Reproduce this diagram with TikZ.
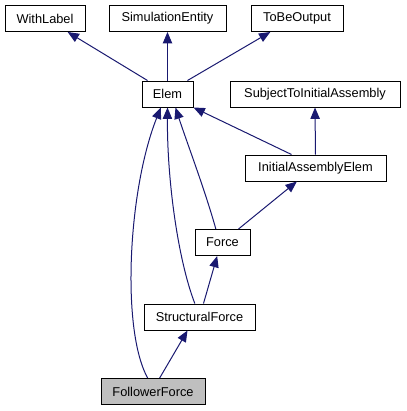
\documentclass[tikz,border=0pt]{standalone}
\usepackage{fontspec}
\setmainfont{Liberation Sans}
\usetikzlibrary{arrows.meta}
\definecolor{midnightblue}{HTML}{191970}
\definecolor{curgray}{HTML}{BFBFBF}
\begin{document}
\begin{tikzpicture}[
    x=0.75pt, y=-0.75pt,
    cls/.style={rectangle, draw, fill=white, line width=0.75pt, inner sep=0pt, minimum height=19.5pt, font=\fontsize{9.6}{11}\selectfont},
    inherit/.style={draw=midnightblue, line width=0.75pt, -{Triangle[length=8.5pt, width=7pt]}, fill=none}
]
\useasboundingbox (0,0) rectangle (407,411);

% Top level
\node[cls, minimum width=60pt] (withlabel) at (45,18.5) {WithLabel};
\node[cls, minimum width=87.75pt] (simentity) at (167.5,18.5) {SimulationEntity};
\node[cls, minimum width=69pt] (tobeoutput) at (297,18.5) {ToBeOutput};

% Second level
\node[cls, minimum width=38.25pt] (elem) at (167.5,94) {Elem};
\node[cls, minimum width=127.5pt] (subject) at (315,94) {SubjectToInitialAssembly};

% Lower levels
\node[cls, minimum width=105.75pt] (iaelem) at (315.5,168) {InitialAssemblyElem};
\node[cls, minimum width=41.25pt] (force) at (222.5,242.5) {Force};
\node[cls, minimum width=83.25pt] (structforce) at (199.5,317) {StructuralForce};
\node[cls, minimum width=78pt, fill=curgray] (followerforce) at (153,391.5) {FollowerForce};

% Arrows
\draw[inherit] ([xshift=-15pt]elem.north) -- ([xshift=17pt]withlabel.south);
\draw[inherit] (elem.north) -- (simentity.south);
\draw[inherit] ([xshift=15pt]elem.north) -- ([xshift=-20pt]tobeoutput.south);
\draw[inherit] ([xshift=-18pt]iaelem.north) -- (elem.south east);
\draw[inherit] (iaelem.north) -- (subject.south);
\draw[inherit] ([xshift=-5pt]force.north) .. controls (205,190) and (186,140) .. ([xshift=6pt]elem.south);
\draw[inherit] ([xshift=12pt]force.north) -- ([xshift=-14pt]iaelem.south);
\draw[inherit] ([xshift=-3.5pt]structforce.north) .. controls (178,260) and (167,180) .. (elem.south);
\draw[inherit] ([xshift=3pt]structforce.north) -- ([xshift=-4pt]force.south);
\draw[inherit] ([xshift=-4pt]followerforce.north) .. controls (121,330) and (128,190) .. ([xshift=-5pt]elem.south);
\draw[inherit] ([xshift=5pt]followerforce.north) -- ([xshift=-9pt]structforce.south);

\end{tikzpicture}
\end{document}
